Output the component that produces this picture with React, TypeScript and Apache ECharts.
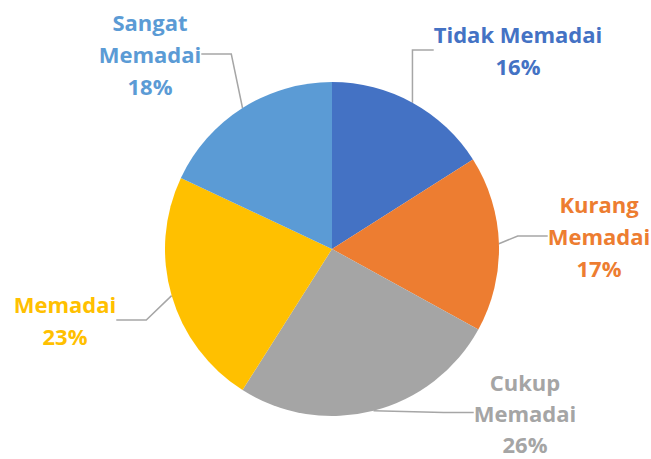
import React, { useEffect, useRef } from "react";
import * as echarts from "echarts";

const categories = ["Tidak Memadai", "Kurang Memadai", "Cukup Memadai", "Memadai", "Sangat Memadai"];
const labelTexts = ["Tidak Memadai", "Kurang\nMemadai", "Cukup\nMemadai", "Memadai", "Sangat\nMemadai"];
const values = [16, 17, 26, 23, 18];
const colors = ["#4472C4", "#ED7D31", "#A5A5A5", "#FFC000", "#5B9BD5"];
// label anchor positions (center x, top y) and line heights
const labelPos = [
  [518, 18],
  [599, 188],
  [525, 366],
  [65, 288],
  [150, 6],
];
const labelLineHeights = [32, 32, 31, 32, 32];

export default function App() {
  const ref = useRef<HTMLDivElement>(null);
  useEffect(() => {
    const chart = echarts.init(ref.current!, null, { renderer: "svg" });
    chart.setOption({
      animation: false,
      backgroundColor: "#ffffff",
      series: [
        {
          type: "pie",
          center: [332, 249],
          radius: 167,
          startAngle: 90,
          clockwise: true,
          data: categories.map((c, i) => ({
            name: c,
            value: values[i],
            itemStyle: { color: colors[i] },
            label: {
              color: colors[i],
              lineHeight: labelLineHeights[i],
              formatter: labelTexts[i] + "\n" + values[i] + "%",
            },
          })),
          label: {
            show: true,
            fontFamily: "Open Sans",
            fontWeight: "bold",
            fontSize: 22,
            lineHeight: 32,
            align: "center",
            overflow: "none",
          },
          labelLine: {
            show: true,
            lineStyle: { color: "#A6A6A6", width: 1.5 },
          },
          labelLayout: (p: any) => {
            const pos = labelPos[p.dataIndex];
            return {
              x: pos[0],
              y: pos[1],
              align: "center",
              verticalAlign: "top",
            };
          },
        },
      ],
    });
    return () => chart.dispose();
  }, []);
  return (
    <div
      ref={ref}
      style={{ position: "absolute", left: 0, top: 0, width: 651, height: 459 }}
    />
  );
}
